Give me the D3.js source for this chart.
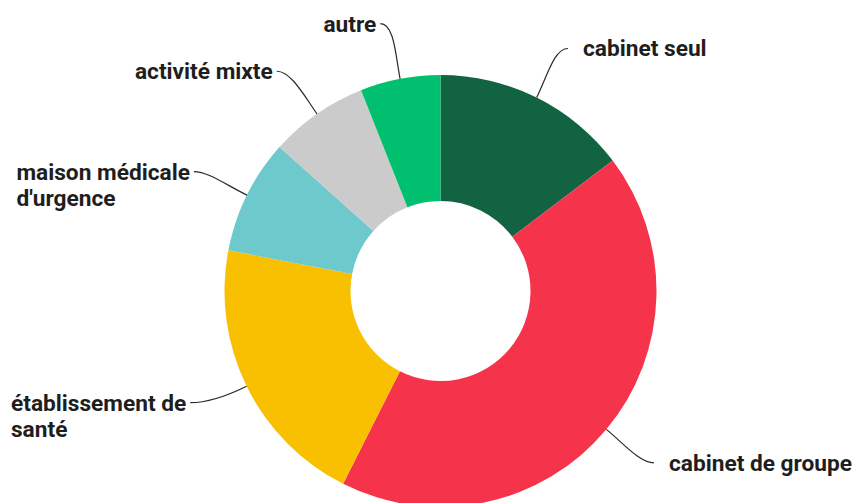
<!DOCTYPE html>
<html>
<head>
<meta charset="utf-8">
<script src="https://cdn.jsdelivr.net/npm/d3@7"></script>
<style>
  html, body { margin: 0; padding: 0; background: #fff; }
  svg { display: block; }
  .lbl { font-family: Roboto, "Noto Sans", sans-serif; font-weight: 700; fill: #1e1e1e; }
</style>
</head>
<body>
<svg id="chart" width="856" height="503"></svg>
<script>
// ---- data ----
const categories = ["cabinet seul", "cabinet de groupe", "établissement de santé", "maison médicale d'urgence", "activité mixte", "autre"];
const values = [14.7, 42.8, 20.6, 8.6, 7.4, 6.0];
const labelLines = [["cabinet seul"], ["cabinet de groupe"], ["établissement de", "santé"], ["maison médicale", "d'urgence"], ["activité mixte"], ["autre"]];
const colors = ["#126342", "#f5344b", "#f8c000", "#6dc9cc", "#cbcbcb", "#00bf6f"];

// ---- layout ----
const W = 856, H = 503;
const cx = 440.5, cy = 291;
const outerR = 216, innerR = 90, labelR = 274;
const labelNudgeDeg = [1.3, -1.0, 2.1, -0.5, -1.8, -1.9];
const fontSize = 22.7, lineGap = 26.2;

const svg = d3.select("#chart");
const g = svg.append("g").attr("transform", `translate(${cx},${cy})`);

const pie = d3.pie().sort(null).value(d => d)(values);
const arc = d3.arc().innerRadius(innerR).outerRadius(outerR);
const color = d3.scaleOrdinal().domain(categories).range(colors);

g.selectAll("path.slice").data(pie).join("path")
  .attr("class", "slice")
  .attr("d", arc)
  .attr("fill", (d, i) => color(categories[i]));

const polar = (a, r) => [r * Math.sin(a), -r * Math.cos(a)];

pie.forEach((d, i) => {
  const mid = (d.startAngle + d.endAngle) / 2;
  const A = polar(mid, outerR);
  const C1 = polar(mid, outerR + 24);
  const la = mid + labelNudgeDeg[i] * Math.PI / 180;
  const L = polar(la, labelR);
  const right = L[0] > 0;
  const C2 = [L[0] + (right ? -14 : 14), L[1]];
  const p = d3.path();
  p.moveTo(A[0], A[1]);
  p.bezierCurveTo(C1[0], C1[1], C2[0], C2[1], L[0], L[1]);
  g.append("path").attr("d", p.toString())
    .attr("fill", "none").attr("stroke", "#2a2a2a").attr("stroke-width", 1.2);

  const t = g.append("text").attr("class", "lbl")
    .attr("font-size", fontSize)
    .attr("text-anchor", "start");
  const spans = labelLines[i].map((s, j) =>
    t.append("tspan").attr("y", L[1] + 8 + j * lineGap).text(s));
  let tx;
  if (right) {
    tx = L[0] + 15;
  } else {
    const w0 = spans[0].node().getComputedTextLength();
    tx = L[0] - 4 - w0;
  }
  spans.forEach(sp => sp.attr("x", tx));
});
</script>
</body>
</html>
